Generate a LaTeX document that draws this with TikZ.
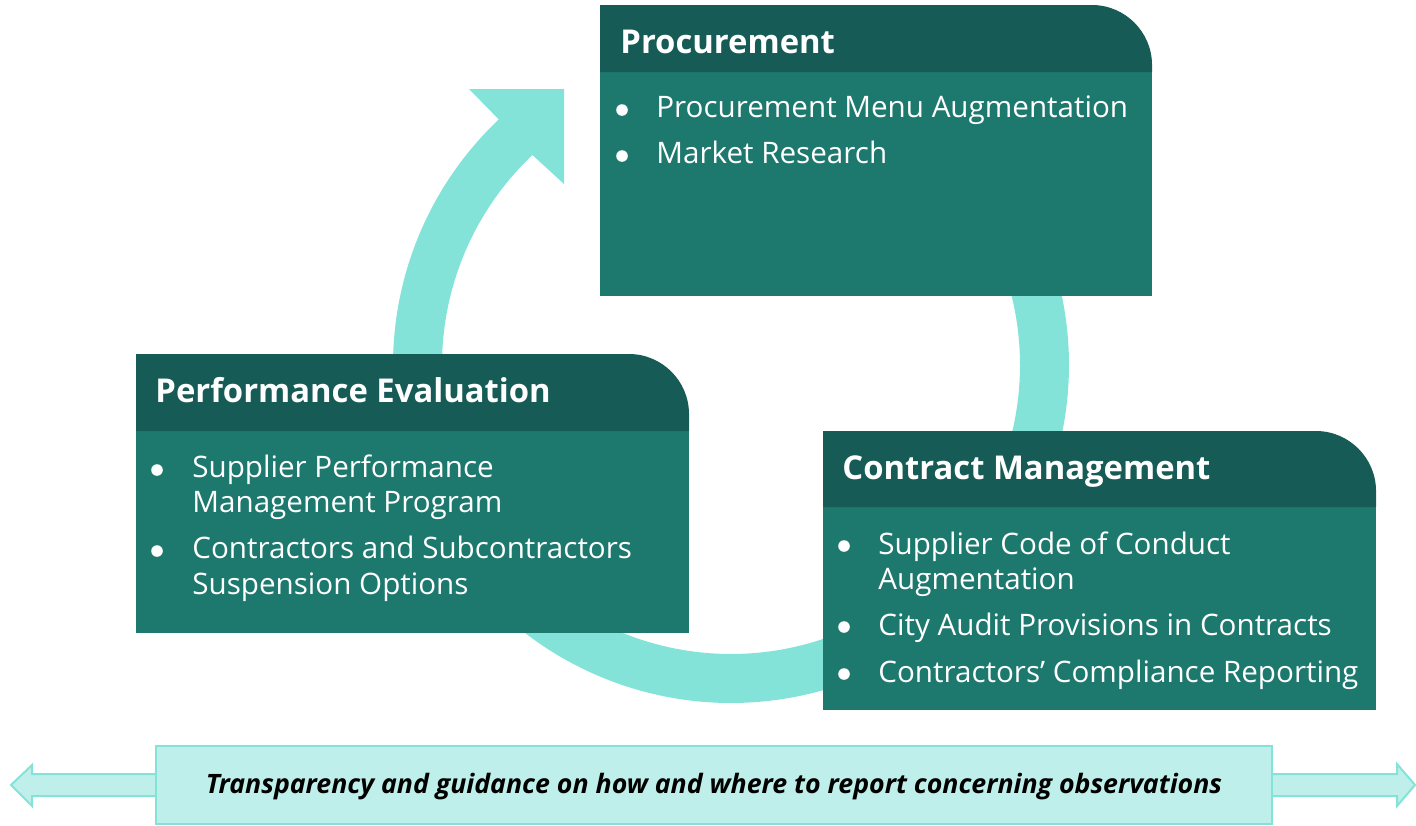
\documentclass[tikz,border=0pt]{standalone}
\usepackage{fontspec}
\setmainfont{Open Sans}
\definecolor{ringc}{HTML}{84E3D9}
\definecolor{hdrc}{HTML}{165B55}
\definecolor{bodyc}{HTML}{1D786E}
\definecolor{bandc}{HTML}{BEEFEA}
\newcommand{\panelbox}[5]{% x0, ytop, x1, yhead, ybot
  \fill[bodyc] (#1,#4) rectangle (#3,#5);
  \fill[hdrc] (#1,#4) -- (#1,#2) -- ({#3-60},#2)
    .. controls ({#3-27},#2) and (#3,{#2+27}) .. (#3,{#2+60}) -- (#3,#4) -- cycle;}
\tikzset{
  hdrtext/.style={anchor=base west, text=white, inner sep=0pt,
    font=\bfseries\fontsize{16.4}{18}\selectfont},
  itemtext/.style={anchor=base west, text=white, inner sep=0pt,
    font=\fontsize{14.8}{18}\selectfont},
  bulletdot/.style={circle, fill=white, minimum size=5.8pt, inner sep=0pt},
  bandtext/.style={anchor=base, text=black, inner sep=0pt,
    font=\bfseries\itshape\fontsize{13.35}{16}\selectfont},
}
\begin{document}
\begin{tikzpicture}[x=0.5pt,y=-0.5pt]
\useasboundingbox (0,0) rectangle (1416,825);
% cycle ring with arrowhead
\fill[ringc] plot[smooth, domain=-60:226.6, samples=120] ({731+338*cos(\x)},{365+338*sin(\x)})
  -- (469,89) -- (564,89) -- (564,184)
  -- plot[smooth, domain=226.6:-60, samples=120] ({731+289*cos(\x)},{365+289*sin(\x)}) -- cycle;
% Procurement
\panelbox{600}{5}{1152}{72}{296}
\node[hdrtext] (proc) at (620,53) {Procurement};
\node[bulletdot] (pb1) at (622,110) {};
\node[itemtext] (pt1) at (656,117) {Procurement Menu Augmentation};
\node[bulletdot] (pb2) at (622,156) {};
\node[itemtext] (pt2) at (656,163) {Market Research};
% Performance Evaluation
\panelbox{136}{354}{689}{431}{633}
\node[hdrtext] (perf) at (155,402) {Performance Evaluation};
\node[bulletdot] (eb1) at (157,470) {};
\node[itemtext] (et1a) at (192,477) {Supplier Performance};
\node[itemtext] (et1b) at (192,512) {Management Program};
\node[bulletdot] (eb2) at (157,551) {};
\node[itemtext] (et2a) at (192,558) {Contractors and Subcontractors};
\node[itemtext] (et2b) at (192,594) {Suspension Options};
% Contract Management
\panelbox{823}{431}{1376}{507}{710}
\node[hdrtext] (cont) at (842,479) {Contract Management};
\node[bulletdot] (cb1) at (844,546) {};
\node[itemtext] (ct1a) at (878,554) {Supplier Code of Conduct};
\node[itemtext] (ct1b) at (878,589) {Augmentation};
\node[bulletdot] (cb2) at (844,627) {};
\node[itemtext] (ct2) at (878,635) {City Audit Provisions in Contracts};
\node[bulletdot] (cb3) at (844,674) {};
\node[itemtext] (ct3) at (878,682) {Contractors’ Compliance Reporting};
% bottom band
\filldraw[fill=bandc, draw=ringc, line width=1pt]
  (11,785) -- (32,765) -- (32,774) -- (1397,774) -- (1397,764) -- (1415,785)
  -- (1397,806) -- (1397,796) -- (32,796) -- (32,806) -- cycle;
\filldraw[fill=bandc, draw=ringc, line width=1pt] (156,746) rectangle (1272,824);
\node[bandtext] (band) at (714,793) {Transparency and guidance on how and where to report concerning observations};
\end{tikzpicture}
\end{document}
